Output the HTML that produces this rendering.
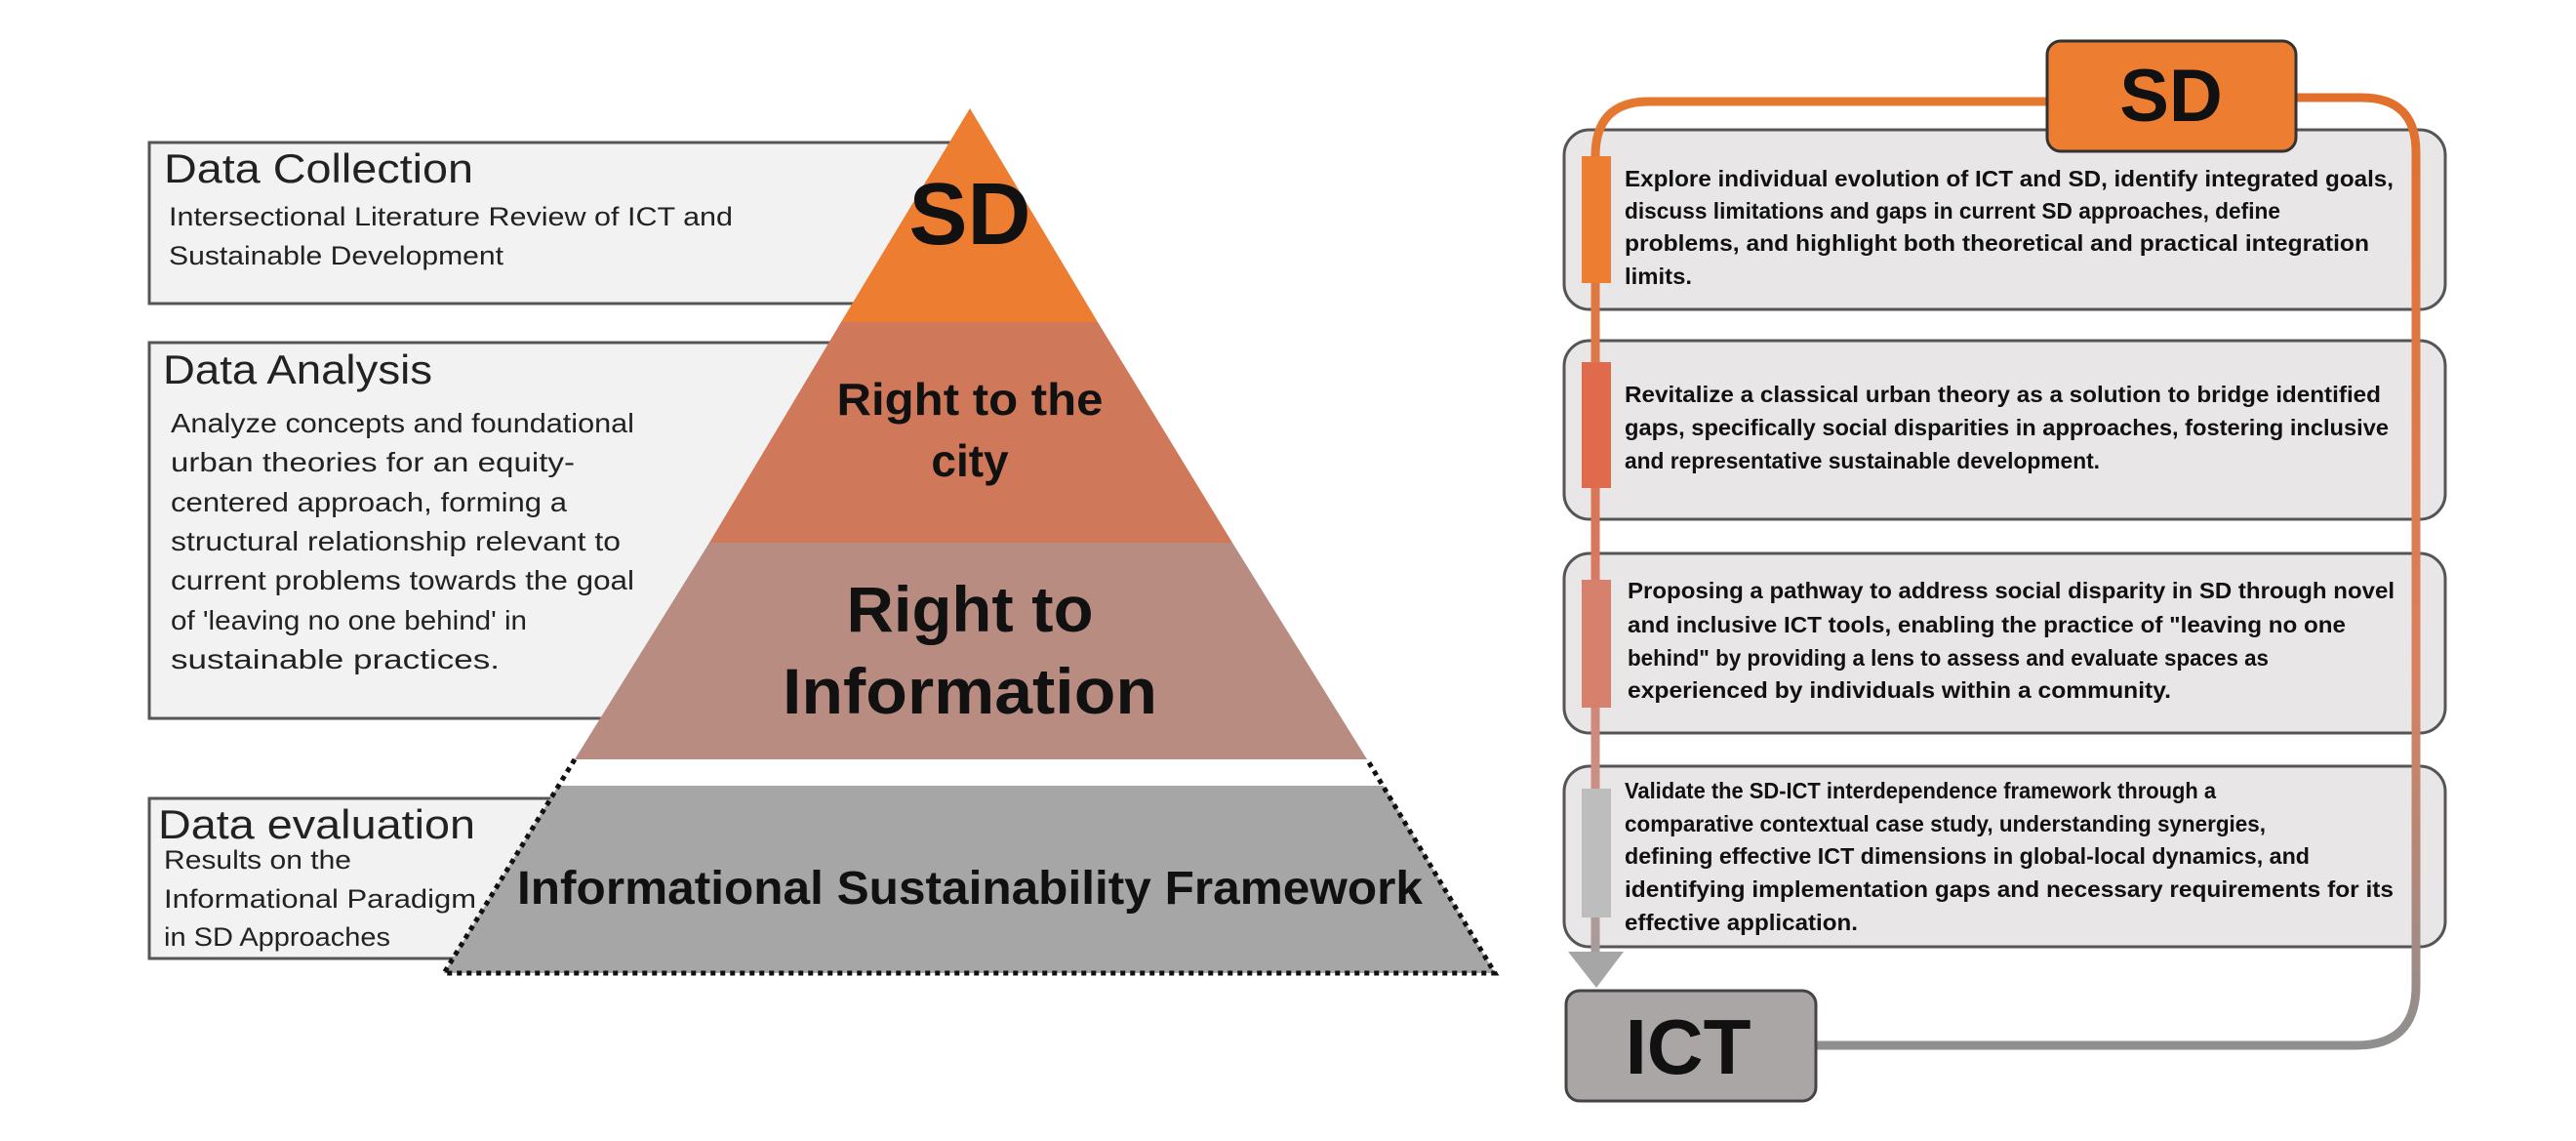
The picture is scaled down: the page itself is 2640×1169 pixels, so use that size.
<!DOCTYPE html>
<html><head><meta charset="utf-8"><style>
html,body{margin:0;padding:0;background:#fff;}
svg{display:block;}
.l{font-family:"Liberation Sans",sans-serif;fill:#222;}
.b{font-family:"Liberation Sans",sans-serif;font-weight:bold;fill:#111;}
</style></head><body>
<svg width="2640" height="1169" viewBox="0 0 2640 1169" xmlns="http://www.w3.org/2000/svg">
<defs>
<linearGradient id="gl" x1="0" y1="100" x2="0" y2="1010" gradientUnits="userSpaceOnUse">
<stop offset="0" stop-color="#e5782e"/><stop offset="0.5" stop-color="#d9775c"/><stop offset="0.8" stop-color="#c9928a"/><stop offset="1" stop-color="#9e9e9e"/></linearGradient>
<linearGradient id="gr" x1="0" y1="98" x2="0" y2="1071" gradientUnits="userSpaceOnUse">
<stop offset="0" stop-color="#e0702c"/><stop offset="0.6" stop-color="#d98060"/><stop offset="1" stop-color="#8f8f8f"/></linearGradient>
</defs>
<!-- left boxes -->
<rect x="153" y="146" width="820" height="165" fill="#f2f2f2" stroke="#555" stroke-width="3"/>
<rect x="153" y="351" width="700" height="385" fill="#f2f2f2" stroke="#555" stroke-width="3"/>
<rect x="153" y="818" width="430" height="164" fill="#f2f2f2" stroke="#555" stroke-width="3"/>
<text class="l" x="168" y="187" font-size="42" textLength="317" lengthAdjust="spacingAndGlyphs">Data Collection</text>
<text class="l" x="173" y="231" font-size="27" textLength="578" lengthAdjust="spacingAndGlyphs">Intersectional Literature Review of ICT and</text>
<text class="l" x="173" y="271" font-size="27" textLength="343" lengthAdjust="spacingAndGlyphs">Sustainable Development</text>
<text class="l" x="167" y="393" font-size="42" textLength="276" lengthAdjust="spacingAndGlyphs">Data Analysis</text>
<g class="l" font-size="28">
<text x="175" y="443" textLength="475" lengthAdjust="spacingAndGlyphs">Analyze concepts and foundational</text>
<text x="175" y="483" textLength="414" lengthAdjust="spacingAndGlyphs">urban theories for an equity-</text>
<text x="175" y="524" textLength="406" lengthAdjust="spacingAndGlyphs">centered approach, forming a</text>
<text x="175" y="564" textLength="461" lengthAdjust="spacingAndGlyphs">structural relationship relevant to</text>
<text x="175" y="604" textLength="475" lengthAdjust="spacingAndGlyphs">current problems towards the goal</text>
<text x="175" y="645" textLength="365" lengthAdjust="spacingAndGlyphs">of 'leaving no one behind' in</text>
<text x="175" y="685" textLength="337" lengthAdjust="spacingAndGlyphs">sustainable practices.</text>
</g>
<text class="l" x="162" y="859" font-size="42" textLength="325" lengthAdjust="spacingAndGlyphs">Data evaluation</text>
<text class="l" x="168" y="890" font-size="27" textLength="192" lengthAdjust="spacingAndGlyphs">Results on the</text>
<text class="l" x="168" y="930" font-size="27" textLength="320" lengthAdjust="spacingAndGlyphs">Informational Paradigm</text>
<text class="l" x="168" y="969" font-size="27" textLength="232" lengthAdjust="spacingAndGlyphs">in SD Approaches</text>
<!-- pyramid -->
<polygon points="994,111 862,330 1125,330" fill="#ed7d31"/>
<polygon points="862,330 1125,330 1263,556 727,556" fill="#d0785a"/>
<polygon points="727,556 1263,556 1401,778 589,778" fill="#b98c82"/>
<polygon points="572,805 1418,805 1532,997 455,997" fill="#a6a6a6"/>
<polyline points="589,778 455,997 1532,997 1401,778" fill="none" stroke="#111" stroke-width="5" stroke-dasharray="5,5"/>
<text class="b" x="994" y="250" font-size="90" text-anchor="middle">SD</text>
<text class="b" x="994" y="425" font-size="46" text-anchor="middle" textLength="273" lengthAdjust="spacingAndGlyphs">Right to the</text>
<text class="b" x="994" y="488" font-size="46" text-anchor="middle">city</text>
<text class="b" x="994" y="647" font-size="66" text-anchor="middle" textLength="253" lengthAdjust="spacingAndGlyphs">Right to</text>
<text class="b" x="994" y="731" font-size="66" text-anchor="middle" textLength="384" lengthAdjust="spacingAndGlyphs">Information</text>
<text class="b" x="994" y="926" font-size="48" text-anchor="middle" textLength="928" lengthAdjust="spacingAndGlyphs">Informational Sustainability Framework</text>
<!-- right cards -->
<g fill="#e8e6e6" stroke="#555" stroke-width="3">
<rect x="1603" y="133" width="903" height="184" rx="26"/>
<rect x="1603" y="349" width="903" height="183" rx="26"/>
<rect x="1603" y="567" width="903" height="184" rx="26"/>
<rect x="1603" y="785" width="903" height="185" rx="26"/>
</g>
<path d="M2098,104 H1690 Q1635,104 1635,160 V985" fill="none" stroke="url(#gl)" stroke-width="9"/>
<path d="M2353,100 H2420 Q2476,100 2476,156 V1010 Q2476,1071 2415,1071 H1862" fill="none" stroke="url(#gr)" stroke-width="9"/>
<rect x="1621" y="160" width="30" height="130" fill="#ed7d31"/>
<rect x="1621" y="371" width="30" height="129" fill="#e06a4c"/>
<rect x="1621" y="594" width="30" height="131" fill="#d8806e"/>
<rect x="1621" y="808" width="30" height="132" fill="#bdbdbd"/>
<polygon points="1607,975 1664,975 1636,1012" fill="#a6a6a6"/>
<rect x="2098" y="42" width="255" height="113" rx="14" fill="#ed7d31" stroke="#333" stroke-width="3"/>
<text class="b" x="2225" y="124" font-size="76" text-anchor="middle">SD</text>
<rect x="1605" y="1015" width="256" height="113" rx="14" fill="#aaa6a6" stroke="#444" stroke-width="3"/>
<text class="b" x="1730" y="1100" font-size="80" text-anchor="middle">ICT</text>
<g class="b" font-size="23">
<text x="1665" y="191" textLength="788" lengthAdjust="spacingAndGlyphs">Explore individual evolution of ICT and SD, identify integrated goals,</text>
<text x="1665" y="224" textLength="672" lengthAdjust="spacingAndGlyphs">discuss limitations and gaps in current SD approaches, define</text>
<text x="1665" y="257" textLength="763" lengthAdjust="spacingAndGlyphs">problems, and highlight both theoretical and practical integration</text>
<text x="1665" y="291" textLength="69" lengthAdjust="spacingAndGlyphs">limits.</text>
<text x="1665" y="412" textLength="775" lengthAdjust="spacingAndGlyphs">Revitalize a classical urban theory as a solution to bridge identified</text>
<text x="1665" y="446" textLength="783" lengthAdjust="spacingAndGlyphs">gaps, specifically social disparities in approaches, fostering inclusive</text>
<text x="1665" y="480" textLength="487" lengthAdjust="spacingAndGlyphs">and representative sustainable development.</text>
<text x="1668" y="613" textLength="786" lengthAdjust="spacingAndGlyphs">Proposing a pathway to address social disparity in SD through novel</text>
<text x="1668" y="648" textLength="736" lengthAdjust="spacingAndGlyphs">and inclusive ICT tools, enabling the practice of "leaving no one</text>
<text x="1668" y="682" textLength="657" lengthAdjust="spacingAndGlyphs">behind" by providing a lens to assess and evaluate spaces as</text>
<text x="1668" y="715" textLength="557" lengthAdjust="spacingAndGlyphs">experienced by individuals within a community.</text>
<text x="1665" y="818" textLength="606" lengthAdjust="spacingAndGlyphs">Validate the SD-ICT interdependence framework through a</text>
<text x="1665" y="852" textLength="657" lengthAdjust="spacingAndGlyphs">comparative contextual case study, understanding synergies,</text>
<text x="1665" y="885" textLength="702" lengthAdjust="spacingAndGlyphs">defining effective ICT dimensions in global-local dynamics, and</text>
<text x="1665" y="919" textLength="788" lengthAdjust="spacingAndGlyphs">identifying implementation gaps and necessary requirements for its</text>
<text x="1665" y="953" textLength="239" lengthAdjust="spacingAndGlyphs">effective application.</text>
</g>
</svg>
</body></html>
